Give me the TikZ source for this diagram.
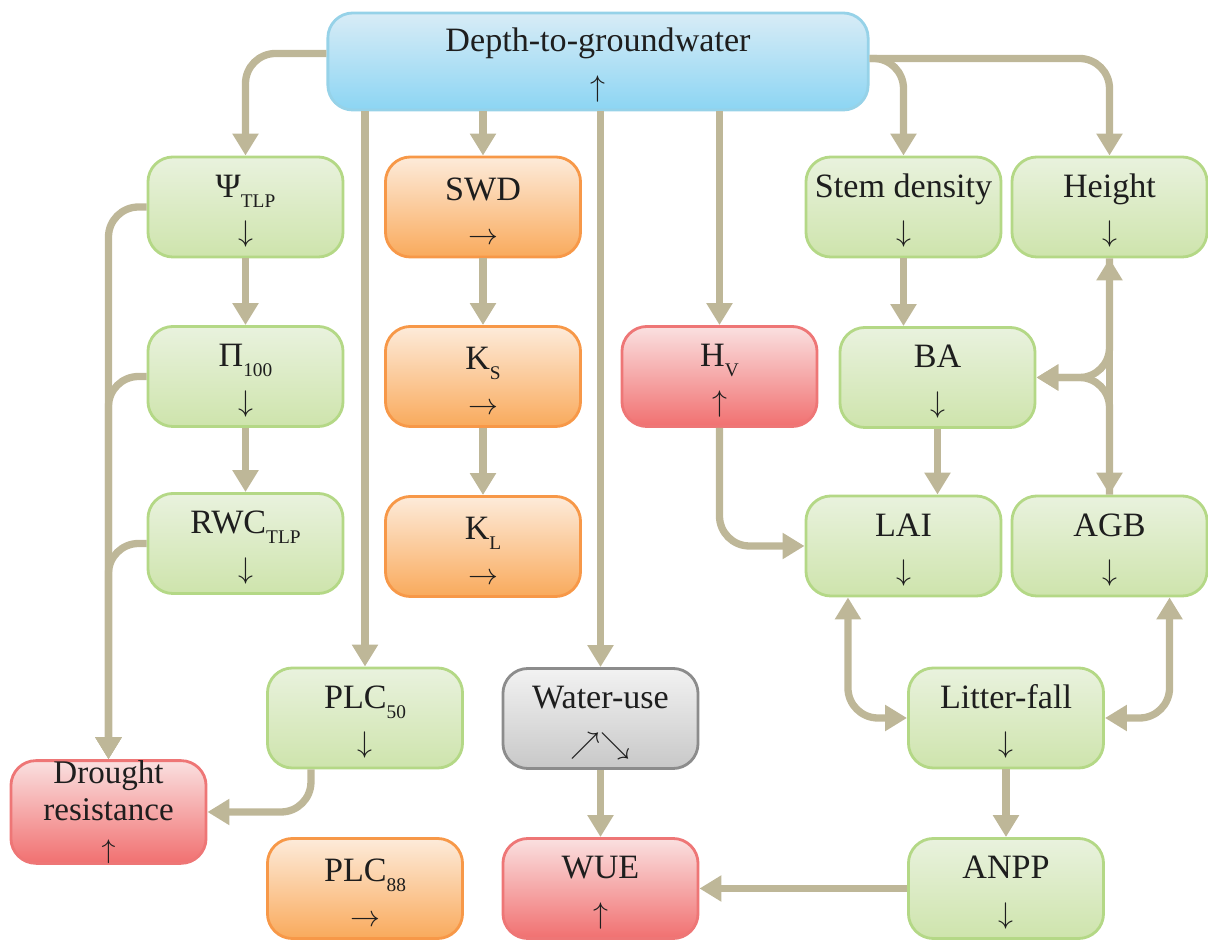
\documentclass[tikz,border=0pt]{standalone}
\usepackage{fontspec}
\setmainfont{Liberation Serif}
\usetikzlibrary{arrows.meta}
\definecolor{linkbeige}{RGB}{190,183,152}
\definecolor{textblack}{RGB}{30,30,30}
\definecolor{leafline}{RGB}{180,216,134}
\definecolor{leaftop}{RGB}{233,242,222}
\definecolor{leafbottom}{RGB}{206,228,172}
\definecolor{soilline}{RGB}{247,152,72}
\definecolor{soiltop}{RGB}{253,235,218}
\definecolor{soilbottom}{RGB}{249,170,92}
\definecolor{riskline}{RGB}{238,118,118}
\definecolor{risktop}{RGB}{250,224,224}
\definecolor{riskbottom}{RGB}{241,112,112}
\definecolor{waterline}{RGB}{150,210,232}
\definecolor{watertop}{RGB}{216,236,246}
\definecolor{waterbottom}{RGB}{140,213,243}
\definecolor{greyline}{RGB}{140,140,140}
\definecolor{greytop}{RGB}{242,242,242}
\definecolor{greybottom}{RGB}{200,200,200}
\newcommand{\lowsub}[1]{\raisebox{-2.8pt}{\fontsize{5.5}{6}\selectfont #1}}
\newcommand{\smallarr}[1]{\scalebox{0.85}{$#1$}}
\newcommand{\lift}{\rule{0pt}{8.8pt}}

\begin{document}
\begin{tikzpicture}[x=0.01cm, y=-0.01cm,
  >={Triangle[width=0.25cm,length=0.22cm]},
  box/.style={rounded corners=0.25cm, minimum width=1.95cm, minimum height=1cm,
    align=center, line width=0.8pt, inner sep=0pt, text=textblack,
    font={\fontsize{9.7}{12.7}\selectfont}},
  leafbox/.style={box, draw=leafline, top color=leaftop, bottom color=leafbottom},
  soilbox/.style={box, draw=soilline, top color=soiltop, bottom color=soilbottom},
  riskbox/.style={box, draw=riskline, top color=risktop, bottom color=riskbottom},
  greybox/.style={box, draw=greyline, top color=greytop, bottom color=greybottom},
  link/.style={draw=linkbeige, line width=0.073cm, rounded corners=0.3cm, ->}]
  \useasboundingbox (0,0) rectangle (1208,940);

  % boxes
  \node[box, draw=waterline, top color=watertop, bottom color=waterbottom,
    minimum width=5.4cm, minimum height=0.97cm] (depth) at (598,61.5) {\lift Depth-to-groundwater\\\smallarr{\uparrow}};
  \node[leafbox] (psi) at (245.5,207) {\lift Ψ\lowsub{TLP}\\\smallarr{\downarrow}};
  \node[leafbox] (pi) at (245.5,376.5) {\lift Π\lowsub{100}\\\smallarr{\downarrow}};
  \node[leafbox] (rwc) at (245.5,543.5) {\lift RWC\lowsub{TLP}\\\smallarr{\downarrow}};
  \node[soilbox] (swd) at (483,207) {\lift SWD\\\smallarr{\rightarrow}};
  \node[soilbox] (ks) at (483,376.5) {\lift K\lowsub{S}\\\smallarr{\rightarrow}};
  \node[soilbox] (kl) at (483,546.5) {\lift K\lowsub{L}\\\smallarr{\rightarrow}};
  \node[riskbox] (hv) at (719.5,376.5) {\lift H\lowsub{V}\\\smallarr{\uparrow}};
  \node[leafbox] (stem) at (903.5,207) {\lift Stem density\\\smallarr{\downarrow}};
  \node[leafbox] (height) at (1109.5,207) {\lift Height\\\smallarr{\downarrow}};
  \node[leafbox] (ba) at (937.5,377.5) {\lift BA\\\smallarr{\downarrow}};
  \node[leafbox] (lai) at (903.5,546) {\lift LAI\\\smallarr{\downarrow}};
  \node[leafbox] (agb) at (1109.5,546) {\lift AGB\\\smallarr{\downarrow}};
  \node[leafbox] (litter) at (1006,718) {\lift Litter-fall\\\smallarr{\downarrow}};
  \node[leafbox] (anpp) at (1006,888.5) {\lift ANPP\\\smallarr{\downarrow}};
  \node[riskbox] (wue) at (600.5,888.5) {\lift WUE\\\smallarr{\uparrow}};
  \node[greybox] (water) at (600.5,718.5) {\lift Water-use\\\smallarr{\nearrow}\smallarr{\searrow}};
  \node[leafbox] (plc50) at (365,718) {\lift PLC\lowsub{50}\\\smallarr{\downarrow}};
  \node[soilbox] (plc88) at (365,888.5) {\lift PLC\lowsub{88}\\\smallarr{\rightarrow}};
  \node[riskbox, minimum height=1.02cm, font={\fontsize{9.4}{10.6}\selectfont}]
    (drought) at (108.5,812) {Drought\\resistance\\\smallarr{\uparrow}};

  % links from the top
  \draw[link] ([yshift=0.08cm]depth.west) -| (psi.north);
  \draw[link] (depth.south -| plc50.north) -- (plc50.north);
  \draw[link] (depth.south -| swd.north) -- (swd.north);
  \draw[link] (depth.south -| water.north) -- (water.north);
  \draw[link] (depth.south -| hv.north) -- (hv.north);
  \draw[link] ([yshift=0.03cm]depth.east) -| (stem.north);
  \draw[link] ([yshift=0.03cm]depth.east) -| (height.north);

  % left columns
  \draw[link] (psi.south) -- (pi.north);
  \draw[link] (pi.south) -- (rwc.north);
  \draw[link] (swd.south) -- (ks.north);
  \draw[link] (ks.south) -- (kl.north);
  \draw[link] (psi.west) -| (drought.north);
  \draw[link] (pi.west) -| (drought.north);
  \draw[link] (rwc.west) -| (drought.north);
  \draw[link] ([xshift=-0.54cm]plc50.south) |- (drought.east);

  % right part
  \draw[link] (hv.south) |- (lai.west);
  \draw[link] (stem.south) -- (stem.south |- ba.north);
  \draw[link] (ba.south) -- (ba.south |- lai.north);
  \draw[link, <->] (height.south) -- (agb.north);
  \draw[link] (height.south) |- (ba.east);
  \draw[link] (agb.north) |- (ba.east);
  \draw[link, <->] ([xshift=-0.555cm]lai.south) |- (litter.west);
  \draw[link, <->] ([xshift=0.6cm]agb.south) |- (litter.east);
  \draw[link] (litter.south) -- (anpp.north);
  \draw[link] (water.south) -- (wue.north);
  \draw[link] (anpp.west) -- (wue.east);
\end{tikzpicture}
\end{document}
